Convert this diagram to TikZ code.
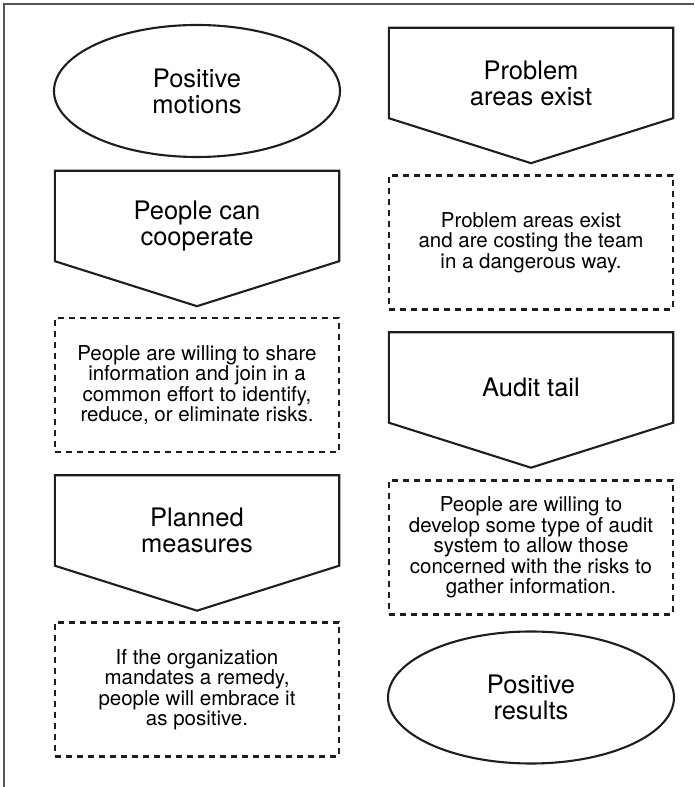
\documentclass[tikz,border=0pt]{standalone}
\usepackage{fontspec}
\setmainfont{TeX Gyre Heros}
\usetikzlibrary{calc,shapes.geometric}
\definecolor{inkgray}{HTML}{1E1E1E}
\definecolor{framegray}{HTML}{555555}
\tikzset{
  ovalbox/.style={
    ellipse,
    draw=inkgray,
    line width=2.1pt,
    minimum width=286pt,
    minimum height=132pt,
    inner sep=0pt,
    align=center,
    font=\fontsize{25.5}{26}\selectfont
  },
  headbox/.style={
    rectangle,
    minimum width=284pt,
    minimum height=90pt,
    inner sep=0pt
  },
  headtext/.style={
    inner sep=0pt,
    align=center,
    font=\fontsize{25.5}{26}\selectfont
  },
  headline/.style={
    draw=inkgray,
    line width=2.1pt,
    line join=miter
  },
  notebox/.style={
    rectangle,
    draw=inkgray,
    line width=2.2pt,
    dash pattern=on 6pt off 5pt,
    minimum width=284pt,
    minimum height=134pt,
    inner sep=0pt,
    align=center,
    font=\fontsize{20.5}{20.5}\selectfont
  }
}

\begin{document}
\begin{tikzpicture}[x=1pt,y=1pt]
\useasboundingbox (0,0) rectangle (694,787);
\draw[framegray, line width=1.2pt] (4,0) -- (4,783) -- (694,783);

% left column
\node[ovalbox] (motions) at (197,696) {Positive\\motions};
\node[headbox] (coop) at (197,571) {};
\node[headtext] (coop-t) at ([yshift=-10pt]coop.center) {People can\\cooperate};
\node[notebox] (share) at (197,402) {People are willing to share\\information and join in a\\common effort to identify,\\reduce, or eliminate risks.};
\node[headbox] (planned) at (197,266.5) {};
\node[headtext] (planned-t) at ([yshift=-10pt]planned.center) {Planned\\measures};
\node[notebox] (mandate) at (197,97.5) {If the organization\\mandates a remedy,\\people will embrace it\\as positive.};

% right column
\node[headbox] (problem) at (531,714) {};
\node[headtext] (problem-t) at ([yshift=-10pt]problem.center) {Problem\\areas exist};
\node[notebox] (costing) at (531,544.5) {Problem areas exist\\and are costing the team\\in a dangerous way.};
\node[headbox] (audit) at (531,409.5) {};
\node[headtext] (audit-t) at ([yshift=-10pt]audit.center) {Audit tail};
\node[notebox] (auditsys) at (531,239.5) {People are willing to\\develop some type of audit\\system to allow those\\concerned with the risks to\\gather information.};
\node[ovalbox] (results) at (531,89.5) {Positive\\results};

% pointed heads
\foreach \n in {coop,planned,problem,audit}
  \draw[headline] (\n.north west) -- (\n.north east) -- (\n.south east)
    -- ($(\n.south)+(0,-45)$) -- (\n.south west) -- cycle;
\end{tikzpicture}
\end{document}
